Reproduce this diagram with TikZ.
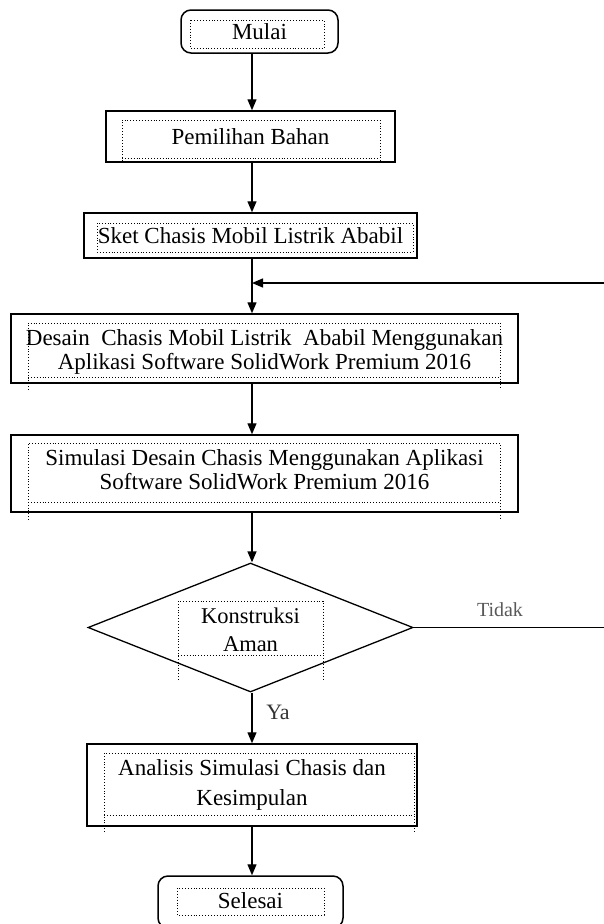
\documentclass[tikz,border=0pt]{standalone}
\usepackage{fontspec}
\setmainfont{Liberation Serif}
\usetikzlibrary{arrows.meta,shapes.geometric}
\begin{document}
\begin{tikzpicture}[x=1pt,y=-1pt,
  box/.style={draw=black,line width=1.5pt,inner sep=0pt,align=center,font=\fontsize{23}{26}\selectfont},
  term/.style={box,rounded corners=10pt},
  dec/.style={draw=black,line width=1.3pt,diamond,inner sep=0pt,align=center,font=\fontsize{22.5}{28}\selectfont},
  txtbox/.style={draw=black,dotted,line width=0.9pt},
  arr/.style={line width=1.4pt,-{Triangle[width=9pt,length=11pt]}},
  lbl/.style={inner sep=0pt,font=\fontsize{20}{24}\selectfont},
  btxt/.style={inner sep=0pt,align=center,font=\fontsize{23}{24}\selectfont}
]
\useasboundingbox (0,0) rectangle (604,924);
\coordinate (axis) at (252,0);
% nodes
\node[term,minimum width=157pt,minimum height=43pt] (mulai) at (259.5,31.5) {Mulai};
\node[box,minimum width=289pt,minimum height=51pt] (pemilihan) at (250.5,136.5) {Pemilihan Bahan};
\node[box,minimum width=333pt,minimum height=45pt] (sket) at (250.5,235.5) {Sket Chasis Mobil Listrik Ababil};
\node[box,minimum width=507pt,minimum height=69pt] (desain) at (264.5,348.5) {};
\node[btxt] (desaintxt) at (264.5,352) {Desain\ \ Chasis Mobil Listrik\ \ Ababil Menggunakan\\Aplikasi Software SolidWork Premium 2016};
\node[box,minimum width=507pt,minimum height=77pt] (simulasi) at (264.5,473.5) {};
\node[btxt] (simulasitxt) at (264.5,470) {Simulasi Desain Chasis Menggunakan Aplikasi\\Software SolidWork Premium 2016};
\node[dec,minimum width=325pt,minimum height=129pt] (aman) at (250.5,627.5) {};
\node[btxt,font=\fontsize{22.5}{28}\selectfont] (amantxt) at (250.5,630) {Konstruksi\\Aman};
\node[box,minimum width=330pt,minimum height=82pt,font=\fontsize{23}{29.5}\selectfont] (analisis) at (252,785) {Analisis Simulasi Chasis dan\\Kesimpulan};
\node[term,minimum width=185pt,minimum height=52pt] (selesai) at (250.5,902) {};
\node[inner sep=0pt,font=\fontsize{23}{26}\selectfont] (selesaitxt) at (250.5,901) {Selesai};
% inner dotted text boxes
\draw[txtbox] (190,20) rectangle (324,48);
\draw[txtbox] (122,161) -- (122,120) -- (380,120) -- (380,161) (122,158) -- (380,158);
\draw[txtbox] (97,223) rectangle (413,252);
\draw[txtbox] (28,390) -- (28,323) -- (500,323) -- (500,390) (28,377) -- (500,377);
\draw[txtbox] (28,520) -- (28,443) -- (500,443) -- (500,520) (28,502) -- (500,502);
\draw[txtbox] (178,680) -- (178,601) -- (323,601) -- (323,680) (178,655) -- (323,655);
\draw[txtbox] (104,832) -- (104,753) -- (414,753) -- (414,832) (104,815) -- (414,815);
\draw[txtbox] (177,888) rectangle (324,915);
% connectors
\coordinate (join) at (252,283);
\draw[arr] (mulai.south -| axis) -- (pemilihan.north -| axis);
\draw[arr] (pemilihan.south -| axis) -- (sket.north -| axis);
\draw[arr] (sket.south -| axis) -- (desain.north -| axis);
\draw[arr] (desain.south -| axis) -- (simulasi.north -| axis);
\draw[arr] (simulasi.south -| axis) -- (aman.north -| axis);
\draw[arr] (aman.south -| axis) -- (analisis.north -| axis);
\draw[arr] (analisis.south -| axis) -- (selesai.north -| axis);
\draw[arr] (aman.east) -- (612,627.5) -- (612,283) -- (join);
% labels
\node[lbl,text=black!65] (tidak) at (500,610) {Tidak};
\node[lbl,font=\fontsize{22}{26}\selectfont,text=black!80] (ya) at (278,712) {Ya};
\end{tikzpicture}
\end{document}
